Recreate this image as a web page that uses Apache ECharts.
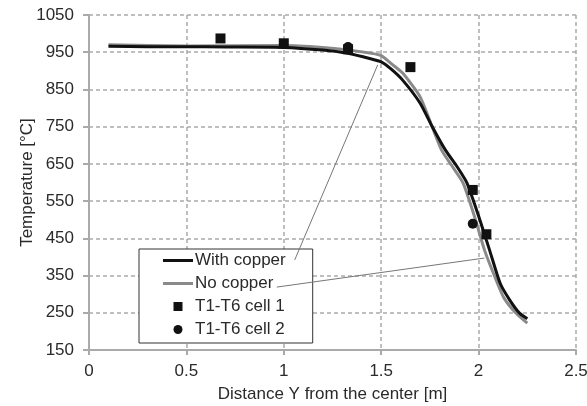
<!DOCTYPE html>
<html>
<head>
<meta charset="utf-8">
<script src="https://cdn.jsdelivr.net/npm/echarts@6/dist/echarts.min.js"></script>
<style>
  html, body { margin: 0; padding: 0; background: #fff; }
  #chart { width: 587px; height: 406px; }
</style>
</head>
<body>
<div id="chart"></div>
<script>
// distance from the center [m] / temperature [°C]
const withCopperX = [0.1, 0.3, 0.5, 0.7, 1.0, 1.2, 1.32, 1.45, 1.5, 1.55, 1.61, 1.7, 1.76, 1.83, 1.89, 1.94, 2.0, 2.056, 2.11, 2.16, 2.21, 2.25];
const withCopperT = [966, 965, 965, 964, 963, 956, 948, 932, 924, 905, 875, 813, 752, 687, 642, 599, 510, 419, 330, 284, 249, 234];
const noCopperX = [0.1, 0.5, 1.0, 1.2, 1.32, 1.45, 1.5, 1.55, 1.61, 1.7, 1.76, 1.81, 1.86, 1.92, 1.98, 2.03, 2.09, 2.13, 2.19, 2.25];
const noCopperT = [970, 967, 968, 963, 957, 947, 941, 920, 894, 830, 752, 687, 647, 599, 507, 419, 338, 290, 250, 222];
const cell1X = [0.675, 1.0, 1.33, 1.65, 1.97, 2.04];
const cell1T = [987, 974, 958, 910, 580, 461];
const cell2X = [1.33, 1.97];
const cell2T = [964, 489];
const xTickLabels = ['0', '0.5', '1', '1.5', '2', '2.5'];

const zip = (xs, ys) => xs.map((x, i) => [x, ys[i]]);
const textColor = '#2a2a2a';
const font = '"Liberation Sans", Arial, sans-serif';

let chart = echarts.init(document.getElementById('chart'));
chart.setOption({
  backgroundColor: '#fff',
  animation: false,
  textStyle: { fontFamily: font },
  grid: { left: 89, right: 11, top: 15, bottom: 56, outerBoundsMode: 'none' },
  legend: {
    orient: 'vertical',
    left: 139,
    top: 249,
    padding: [3, 27, 5, 24],
    itemWidth: 30,
    itemHeight: 9,
    itemGap: 6,
    symbolKeepAspect: true,
    borderColor: '#333',
    borderWidth: 1,
    backgroundColor: '#fff',
    textStyle: { fontSize: 17, color: textColor, fontFamily: font, lineHeight: 17, padding: [0, 0, 0, -3] },
    data: [
      { name: 'With copper', icon: 'path://M0,0h30v3h-30z' },
      { name: 'No copper', icon: 'path://M0,0h30v3h-30z' },
      { name: 'T1-T6 cell 1', icon: 'path://M0,0h10v10h-10z' },
      { name: 'T1-T6 cell 2', icon: 'circle' }
    ]
  },
  xAxis: {
    type: 'value',
    min: 0, max: 2.5, interval: 0.5,
    name: 'Distance Y from the center [m]',
    nameLocation: 'middle',
    nameGap: 36,
    nameMoveOverlap: false,
    nameTextStyle: { fontSize: 17, color: textColor, fontFamily: font },
    axisLine: { lineStyle: { color: '#aaa', width: 2 } },
    axisTick: { show: true, length: 5, lineStyle: { color: '#aaa', width: 2 } },
    axisLabel: {
      fontSize: 17, color: textColor, margin: 13,
      formatter: (v) => xTickLabels[Math.round(v / 0.5)]
    },
    splitLine: { show: true, lineStyle: { color: '#aaa', type: [4, 3], width: 1.5 } }
  },
  yAxis: {
    type: 'value',
    min: 150, max: 1050, interval: 100,
    name: 'Temperature [°C]',
    nameLocation: 'middle',
    nameGap: 53,
    nameMoveOverlap: false,
    nameTextStyle: { fontSize: 17, color: textColor, fontFamily: font },
    axisLine: { show: true, lineStyle: { color: '#aaa', width: 2 } },
    axisTick: { show: true, length: 6, lineStyle: { color: '#aaa', width: 2 } },
    axisLabel: { fontSize: 17, color: textColor, margin: 15, formatter: (v) => String(v) },
    splitLine: { show: true, lineStyle: { color: '#aaa', type: [4, 3], width: 1.5 } }
  },
  series: [
    {
      name: 'No copper',
      type: 'line',
      data: zip(noCopperX, noCopperT),
      symbol: 'none',
      smooth: 0.2,
      color: '#8a8a8a',
      lineStyle: { width: 3, color: '#8a8a8a' },
      z: 2
    },
    {
      name: 'With copper',
      type: 'line',
      data: zip(withCopperX, withCopperT),
      symbol: 'none',
      smooth: 0.2,
      color: '#111',
      lineStyle: { width: 3, color: '#111' },
      z: 3,
      markLine: {
        silent: true,
        symbol: 'none',
        label: { show: false },
        lineStyle: { color: '#777', width: 1, type: 'solid' },
        data: [
          [{ coord: [1.056, 392] }, { coord: [1.482, 916] }],
          [{ coord: [0.964, 319] }, { coord: [2.03, 397] }]
        ]
      }
    },
    {
      name: 'T1-T6 cell 1',
      type: 'scatter',
      data: zip(cell1X, cell1T),
      symbol: 'rect',
      symbolSize: 10,
      itemStyle: { color: '#111', opacity: 1 },
      z: 4
    },
    {
      name: 'T1-T6 cell 2',
      type: 'scatter',
      data: zip(cell2X, cell2T),
      symbol: 'circle',
      symbolSize: 10,
      itemStyle: { color: '#111', opacity: 1 },
      z: 4
    }
  ]
});
</script>
</body>
</html>
